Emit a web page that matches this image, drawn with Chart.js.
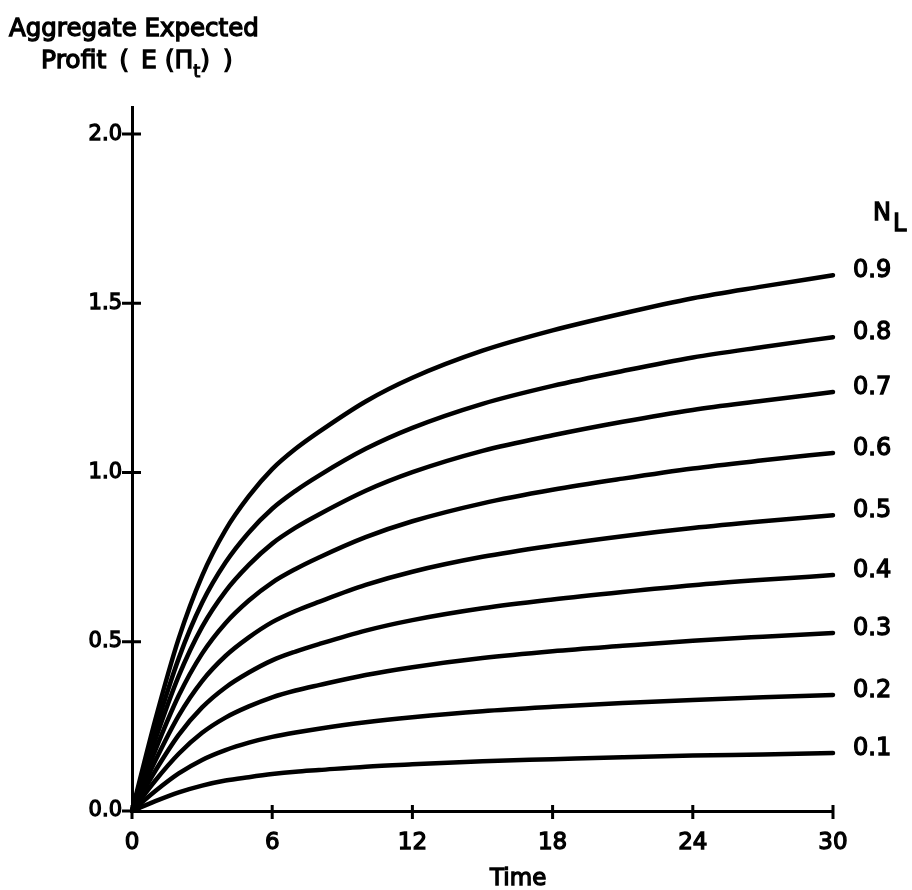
<!DOCTYPE html>
<html>
<head>
<meta charset="utf-8">
<script src="https://cdn.jsdelivr.net/npm/chart.js@4.4.1/dist/chart.umd.min.js"></script>
<style>
  html, body { margin: 0; padding: 0; background: #fff; }
  #wrap { position: relative; width: 912px; height: 890px; }
  canvas { position: absolute; left: 0; top: 0; }
  .txt { position: absolute; font-family: "DejaVu Sans", sans-serif; color: #000; white-space: nowrap; line-height: 1; -webkit-text-stroke: 1.3px #000; }
</style>
</head>
<body>
<div id="wrap">
  <canvas id="c" width="912" height="890"></canvas>
  <div class="txt" id="t1" style="left:9px; top:16px; font-size:24.5px;">Aggregate Expected</div>
  <div class="txt" id="t2" style="left:41px; top:47px; font-size:25px;">Profit <span style="margin-left:5px">(</span> <span style="margin-left:4px">E</span> (Π<span style="font-size:18px; position:relative; top:9px; -webkit-text-stroke:1px #000;">t</span>) <span style="margin-left:5px">)</span></div>
  <div class="txt" id="nl" style="left:873px; top:200px; font-size:24px;">N<span style="position:relative; top:11px; margin-left:2px;">L</span></div>
  <div class="txt" id="xt" style="left:490px; top:866px; font-size:23px;">Time</div>
</div>
<script>
// ---- data ----
const times = [0, 1, 2, 3, 4, 5, 6, 7, 8, 10, 12, 15, 18, 21, 24, 27, 30];
const seriesLabels = ['0.1', '0.2', '0.3', '0.4', '0.5', '0.6', '0.7', '0.8', '0.9'];
const nl01 = [0, 0.029, 0.055, 0.075, 0.090, 0.100, 0.109, 0.116, 0.121, 0.131, 0.138, 0.147, 0.153, 0.159, 0.164, 0.167, 0.171];
const nl02 = [0, 0.059, 0.111, 0.151, 0.180, 0.202, 0.219, 0.232, 0.243, 0.262, 0.277, 0.295, 0.308, 0.319, 0.328, 0.336, 0.343];
const nl03 = [0, 0.090, 0.169, 0.231, 0.276, 0.309, 0.336, 0.356, 0.372, 0.402, 0.425, 0.452, 0.472, 0.488, 0.503, 0.515, 0.526];
const nl04 = [0, 0.119, 0.225, 0.306, 0.365, 0.409, 0.445, 0.471, 0.493, 0.533, 0.564, 0.599, 0.625, 0.647, 0.667, 0.683, 0.697];
const nl05 = [0, 0.149, 0.282, 0.384, 0.458, 0.513, 0.558, 0.591, 0.618, 0.668, 0.707, 0.751, 0.784, 0.812, 0.836, 0.856, 0.874];
const nl06 = [0, 0.180, 0.341, 0.465, 0.555, 0.622, 0.675, 0.715, 0.749, 0.809, 0.856, 0.909, 0.949, 0.982, 1.012, 1.036, 1.058];
const nl07 = [0, 0.211, 0.399, 0.544, 0.649, 0.727, 0.790, 0.837, 0.876, 0.946, 1.001, 1.064, 1.110, 1.150, 1.185, 1.212, 1.238];
const nl08 = [0, 0.239, 0.451, 0.615, 0.734, 0.823, 0.893, 0.946, 0.991, 1.070, 1.132, 1.203, 1.256, 1.300, 1.340, 1.371, 1.400];
const nl09 = [0, 0.270, 0.510, 0.695, 0.830, 0.930, 1.010, 1.070, 1.120, 1.210, 1.280, 1.360, 1.420, 1.470, 1.515, 1.550, 1.583];
const xTicks = [0, 6, 12, 18, 24, 30];
const yTicks = [0, 0.5, 1.0, 1.5, 2.0];
const yTickLabels = ['0.0', '0.5', '1.0', '1.5', '2.0'];

const allSeries = [nl01, nl02, nl03, nl04, nl05, nl06, nl07, nl08, nl09];
const FONT_FAMILY = '"DejaVu Sans", sans-serif';

const datasets = allSeries.map((vals, i) => ({
  label: seriesLabels[i],
  data: vals.map((v, j) => ({ x: times[j], y: v })),
  borderColor: '#000',
  borderWidth: 4.5,
  pointRadius: 0,
  fill: false,
  cubicInterpolationMode: 'monotone',
  borderCapStyle: 'round',
  borderJoinStyle: 'round',
  clip: false
}));

const crossTicks = {
  id: 'crossTicks',
  afterDraw(chart) {
    const ctx = chart.ctx;
    const xs = chart.scales.x, ys = chart.scales.y;
    const ax = chart.chartArea.left, ay = chart.chartArea.bottom;
    ctx.save();
    ctx.strokeStyle = '#000';
    ctx.lineWidth = 3;
    ctx.beginPath();
    yTicks.forEach(v => {
      const py = ys.getPixelForValue(v);
      ctx.moveTo(ax - 10, py); ctx.lineTo(ax + 9, py);
    });
    xTicks.forEach(v => {
      const px = xs.getPixelForValue(v);
      ctx.moveTo(px, ay - 6); ctx.lineTo(px, ay + 8);
    });
    ctx.stroke();
    // curve end labels
    ctx.fillStyle = '#000';
    ctx.lineWidth = 1.3;
    ctx.font = '24px ' + FONT_FAMILY;
    ctx.textAlign = 'left';
    ctx.textBaseline = 'middle';
    chart.data.datasets.forEach((ds, i) => {
      const meta = chart.getDatasetMeta(i);
      const pt = meta.data[meta.data.length - 1];
      ctx.fillText(ds.label, pt.x + 20, pt.y - 4);
      ctx.strokeText(ds.label, pt.x + 20, pt.y - 4);
    });
    ctx.restore();
  }
};

new Chart(document.getElementById('c'), {
  type: 'line',
  data: { datasets },
  options: {
    responsive: false,
    animation: false,
    devicePixelRatio: 1,
    layout: { padding: { top: 107, right: 79, left: 0, bottom: 0 } },
    plugins: { legend: { display: false }, tooltip: { enabled: false } },
    scales: {
      x: {
        type: 'linear', min: 0, max: 30,
        afterBuildTicks: s => { s.ticks = xTicks.map(v => ({ value: v })); },
        afterFit: s => { s.height = 79; },
        grid: { display: false, drawTicks: false },
        border: { display: true, color: '#000', width: 3 },
        ticks: { color: '#000', font: { family: FONT_FAMILY, size: 23 }, padding: 18, maxRotation: 0,
                 textStrokeColor: '#000', textStrokeWidth: 1.3 }
      },
      y: {
        type: 'linear', min: 0, max: 2.08,
        afterBuildTicks: s => { s.ticks = yTicks.map(v => ({ value: v })); },
        afterFit: s => { s.width = 132; },
        grid: { display: false, drawTicks: false },
        border: { display: true, color: '#000', width: 3 },
        ticks: {
          color: '#000', font: { family: FONT_FAMILY, size: 21 }, padding: 10,
          textStrokeColor: '#000', textStrokeWidth: 1.3,
          callback: (v) => yTickLabels[yTicks.indexOf(v)]
        }
      }
    }
  },
  plugins: [crossTicks]
});
</script>
</body>
</html>
